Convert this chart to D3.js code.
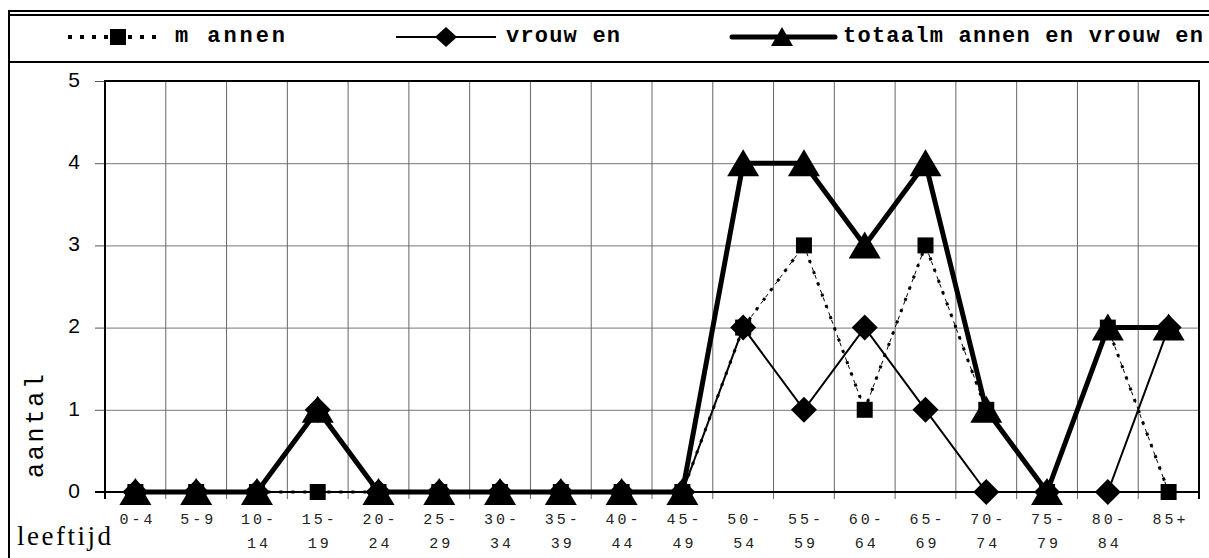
<!DOCTYPE html>
<html>
<head>
<meta charset="utf-8">
<script src="https://cdn.jsdelivr.net/npm/d3@7"></script>
<style>
  body { margin: 0; background: #fff; }
</style>
</head>
<body>
<div id="chart"></div>
<script>
const categories = ["0-4", "5-9", "10-14", "15-19", "20-24", "25-29", "30-34", "35-39", "40-44",
                    "45-49", "50-54", "55-59", "60-64", "65-69", "70-74", "75-79", "80-84", "85+"];
const mannen  = [0, 0, 0, 0, 0, 0, 0, 0, 0, 0, 2, 3, 1, 3, 1, 0, 2, 0];
const vrouwen = [0, 0, 0, 1, 0, 0, 0, 0, 0, 0, 2, 1, 2, 1, 0, 0, 0, 2];
const totaal  = [0, 0, 0, 1, 0, 0, 0, 0, 0, 0, 4, 4, 3, 4, 1, 0, 2, 2];
const yTicks = [0, 1, 2, 3, 4, 5];
const legendLabels = ["m annen", "vrouw en", "totaalm annen en vrouw en"];

const width = 1209;
const height = 558;
const plot = {left: 105, right: 1199, top: 81, bottom: 492};
const mono = "'Liberation Mono', 'Courier New', monospace";

const svg = d3.select('#chart')
    .append('svg')
    .attr('width', width)
    .attr('height', height);

// outer frame
svg.append('line').attr('x1', 8).attr('x2', width).attr('y1', 11).attr('y2', 11)
    .attr('stroke', '#000').attr('stroke-width', 2);
svg.append('line').attr('x1', 8).attr('x2', width).attr('y1', 15).attr('y2', 15)
    .attr('stroke', '#000').attr('stroke-width', 2);
svg.append('line').attr('x1', 9).attr('x2', 9).attr('y1', 10).attr('y2', height)
    .attr('stroke', '#000').attr('stroke-width', 2);
svg.append('line').attr('x1', 9).attr('x2', width).attr('y1', 62).attr('y2', 62)
    .attr('stroke', '#000').attr('stroke-width', 2);

// scales
const x = d3.scaleBand()
    .domain(categories)
    .range([plot.left, plot.right]);
const cx = c => x(c) + x.bandwidth() / 2;

const y = d3.scaleLinear()
    .domain([0, 5])
    .range([plot.bottom, plot.top]);

// horizontal gridlines + y ticks
svg.append('g')
    .attr('transform', `translate(${plot.left},0)`)
    .call(d3.axisLeft(y).tickValues(yTicks).tickSize(-(plot.right - plot.left)).tickFormat(''))
    .call(g => g.select('.domain').remove())
    .call(g => g.selectAll('line').attr('stroke', '#777').attr('stroke-width', 1));

svg.append('g')
    .attr('transform', `translate(${plot.left},0)`)
    .call(d3.axisLeft(y).tickValues(yTicks).tickSize(10).tickPadding(15).tickFormat(d3.format('d')))
    .call(g => g.select('.domain').remove())
    .call(g => g.selectAll('line').attr('stroke', '#555'))
    .call(g => g.selectAll('text')
        .attr('font-family', "'Liberation Sans', Arial, sans-serif")
        .attr('font-size', 21)
        .attr('dy', '0.25em')
        .attr('fill', '#000'));

// vertical gridlines at category boundaries
const bounds = categories.map(c => x(c)).concat([x.range()[1]]);
svg.append('g').selectAll('line')
    .data(bounds.slice(1, -1))
    .enter()
    .append('line')
    .attr('x1', d => d).attr('x2', d => d)
    .attr('y1', plot.top).attr('y2', plot.bottom + 7)
    .attr('stroke', '#666').attr('stroke-width', 1);

// plot border
svg.append('path')
    .attr('d', `M${plot.left},${plot.bottom + 7}V${plot.top}H${plot.right}V${plot.bottom + 7}`)
    .attr('fill', 'none').attr('stroke', '#000').attr('stroke-width', 2);
svg.append('line')
    .attr('x1', plot.left - 10).attr('x2', plot.right)
    .attr('y1', y(0)).attr('y2', y(0))
    .attr('stroke', '#000').attr('stroke-width', 2);

// x tick labels (two lines)
const xl = svg.append('g')
    .attr('font-family', mono)
    .attr('font-size', 15)
    .attr('fill', '#222')
    .style('letter-spacing', '3px');
categories.forEach(c => {
    const parts = c.length > 3 ? [c.slice(0, c.indexOf('-') + 1), c.slice(c.indexOf('-') + 1)] : [c];
    const t = xl.append('text')
        .attr('text-anchor', 'middle')
        .attr('x', cx(c) + 2)
        .attr('y', 524);
    parts.forEach((p, i) => {
        t.append('tspan').attr('x', cx(c) + 2).attr('dy', i === 0 ? 0 : 24).text(p);
    });
});

// axis titles
svg.append('text')
    .attr('transform', 'translate(43,478) rotate(-90)')
    .attr('font-family', mono)
    .attr('font-size', 25)
    .attr('textLength', 104)
    .attr('lengthAdjust', 'spacing')
    .text('aantal');

svg.append('text')
    .attr('x', 17).attr('y', 545)
    .attr('font-family', "'Liberation Serif', 'Times New Roman', serif")
    .attr('font-size', 27)
    .attr('textLength', 94)
    .attr('lengthAdjust', 'spacing')
    .text('leeftijd');

// series
const line = d3.line().x((d, i) => cx(categories[i])).y(d => y(d));

svg.append('path')
    .datum(mannen)
    .attr('d', line)
    .attr('fill', 'none').attr('stroke', '#000')
    .attr('stroke-width', 1).attr('stroke-dasharray', '4,4');
svg.append('path')
    .datum(mannen)
    .attr('d', line)
    .attr('fill', 'none').attr('stroke', '#000')
    .attr('stroke-width', 3).attr('stroke-dasharray', '3,9');

svg.append('path')
    .datum(vrouwen)
    .attr('d', line)
    .attr('fill', 'none').attr('stroke', '#000')
    .attr('stroke-width', 2);

svg.append('path')
    .datum(totaal)
    .attr('d', line)
    .attr('fill', 'none').attr('stroke', '#000')
    .attr('stroke-width', 5).attr('stroke-linejoin', 'round');

// markers
const square = d3.symbol().type(d3.symbolSquare).size(16 * 16);
const diamond = 'M0,-13L13,0L0,13L-13,0Z';
const triangle = 'M0,-14L16,13L-16,13Z';

svg.selectAll('.m-mark')
    .data(mannen)
    .enter()
    .append('path')
    .attr('class', 'm-mark')
    .attr('d', square)
    .attr('transform', (d, i) => `translate(${cx(categories[i])},${y(d)})`);

svg.selectAll('.v-mark')
    .data(vrouwen)
    .enter()
    .append('path')
    .attr('class', 'v-mark')
    .attr('d', diamond)
    .attr('transform', (d, i) => `translate(${cx(categories[i])},${y(d)})`);

svg.selectAll('.t-mark')
    .data(totaal)
    .enter()
    .append('path')
    .attr('class', 't-mark')
    .attr('d', triangle)
    .attr('transform', (d, i) => `translate(${cx(categories[i])},${y(d)})`);

// legend
const ly = 37;
const lg = svg.append('g');
lg.append('line').attr('x1', 68).attr('x2', 162).attr('y1', ly).attr('y2', ly)
    .attr('stroke', '#000').attr('stroke-width', 4).attr('stroke-dasharray', '4,8');
lg.append('path').attr('d', square).attr('transform', `translate(118,${ly})`);
lg.append('line').attr('x1', 396).attr('x2', 496).attr('y1', ly).attr('y2', ly)
    .attr('stroke', '#000').attr('stroke-width', 2);
lg.append('path').attr('d', 'M0,-10L11,0L0,10L-11,0Z').attr('transform', `translate(446,${ly})`);
lg.append('line').attr('x1', 732).attr('x2', 835).attr('y1', ly).attr('y2', ly)
    .attr('stroke', '#000').attr('stroke-width', 5).attr('stroke-linecap', 'round');
lg.append('path').attr('d', 'M0,-10L11,9L-11,9Z').attr('transform', `translate(782,${ly})`);

const legendPos = [[175, 110], [506, 114], [843, 360]];
legendLabels.forEach((t, i) => {
    lg.append('text')
        .attr('x', legendPos[i][0]).attr('y', ly + 5)
        .attr('font-family', mono)
        .attr('font-weight', 'bold')
        .attr('font-size', 22)
        .attr('textLength', legendPos[i][1])
        .attr('lengthAdjust', 'spacing')
        .text(t);
});
</script>
</body>
</html>
